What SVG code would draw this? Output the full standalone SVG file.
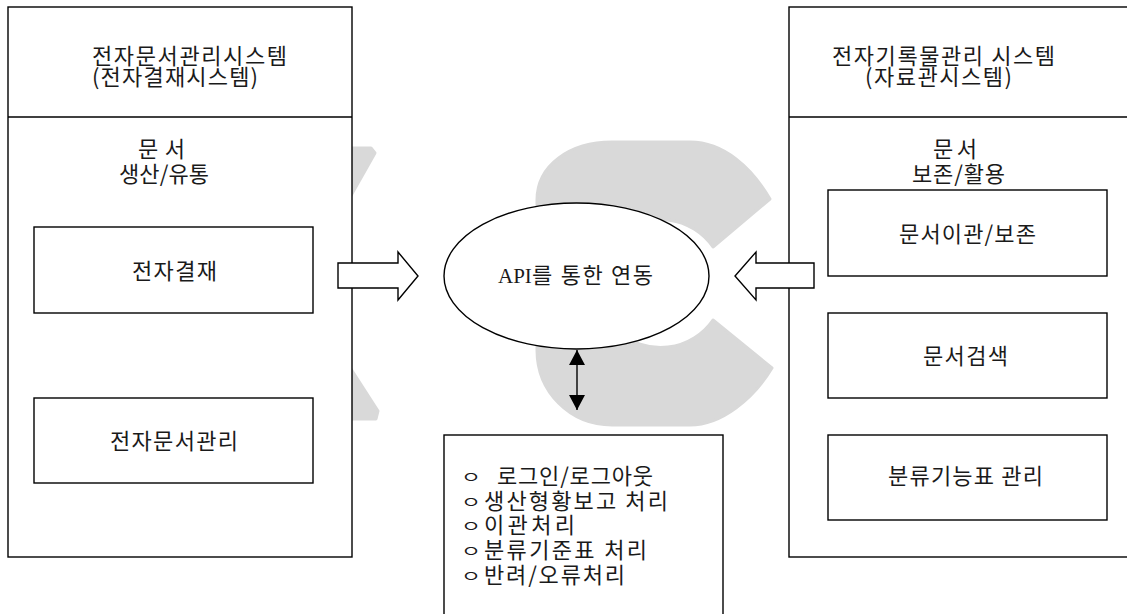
<svg xmlns="http://www.w3.org/2000/svg" width="1127" height="614" viewBox="0 0 1127 614">
<style>
.box{fill:#fff;stroke:#000;stroke-width:1.4}
.ln{fill:none;stroke:#000;stroke-width:1.4}
.wm{fill:#d9d9d9;stroke:#d9d9d9;stroke-width:3;stroke-linejoin:round}
.t{font-family:"Noto Sans CJK KR","Liberation Sans",sans-serif;font-size:22px;fill:#1a1a1a}
.ts{font-family:"Liberation Serif","Noto Sans CJK KR",serif;font-size:21px;fill:#1a1a1a}
.b{font-family:"Noto Sans CJK KR","Liberation Sans",sans-serif;font-size:15px;fill:#1a1a1a;text-anchor:middle}
.blk{fill:#fff;stroke:#000;stroke-width:1.4;stroke-linejoin:miter}
</style>
<defs>
<marker id="tri" viewBox="0 0 15 16" refX="15" refY="8" markerWidth="15" markerHeight="16" markerUnits="userSpaceOnUse" orient="auto-start-reverse">
<path d="M0,0 L15,8 L0,16 z" fill="#000"/>
</marker>
</defs>
<rect width="1127" height="614" fill="#fff"/>
<g id="watermark">
<path class="wm" d="M713,247 L770,199 C752,168 724,142 690,142 L612,142 C570,142 537,165 537,200 L537,350 C537,392 570,425 612,425 L690,425 C722,425 754,398 772,368 L713,320 A64,64 0 1 1 713,247 Z"/>
<polygon class="wm" points="340,148 371,148 375,153 340,215"/>
<polygon class="wm" points="340,352 378,411 376,419 340,419"/>
</g>
<g id="edms">
<rect class="box" x="8" y="7" width="344" height="550"/>
<line class="ln" x1="8" y1="117" x2="352" y2="117"/>
<text class="t" x="92" y="64" textLength="195" lengthAdjust="spacing">전자문서관리시스템</text>
<text class="t" x="92" y="85" textLength="166" lengthAdjust="spacing">(전자결재시스템)</text>
<text class="t" x="138" y="157" textLength="47" lengthAdjust="spacing">문서</text>
<text class="t" x="119" y="182" textLength="90" lengthAdjust="spacing">생산/유통</text>
</g>
<g id="approval">
<rect class="box" x="34" y="227" width="279" height="86"/>
<text class="t" x="132" y="279" textLength="85" lengthAdjust="spacing">전자결재</text>
</g>
<g id="docmgmt">
<rect class="box" x="34" y="398" width="279" height="85"/>
<text class="t" x="110" y="449" textLength="128" lengthAdjust="spacing">전자문서관리</text>
</g>
<g id="erms">
<rect class="box" x="789" y="7" width="360" height="550"/>
<line class="ln" x1="789" y1="117" x2="1149" y2="117"/>
<text class="t" x="832" y="64" textLength="223" lengthAdjust="spacing">전자기록물관리 시스템</text>
<text class="t" x="865" y="85" textLength="147" lengthAdjust="spacing">(자료관시스템)</text>
<text class="t" x="933" y="157" textLength="44" lengthAdjust="spacing">문서</text>
<text class="t" x="912" y="182" textLength="93" lengthAdjust="spacing">보존/활용</text>
</g>
<g id="transfer">
<rect class="box" x="828" y="190" width="279" height="86"/>
<text class="t" x="899" y="242" textLength="137" lengthAdjust="spacing">문서이관/보존</text>
</g>
<g id="search">
<rect class="box" x="828" y="313" width="279" height="85"/>
<text class="t" x="923" y="364" textLength="85" lengthAdjust="spacing">문서검색</text>
</g>
<g id="classify">
<rect class="box" x="828" y="435" width="279" height="85"/>
<text class="t" x="888" y="484" textLength="155" lengthAdjust="spacing">분류기능표 관리</text>
</g>
<g id="api">
<ellipse class="box" cx="576.5" cy="276" rx="132.5" ry="73"/>
<text class="ts" y="283"><tspan x="498">API</tspan><tspan x="532" font-size="22" textLength="121" lengthAdjust="spacing">를 통한 연동</tspan></text>
</g>
<g id="functions">
<rect class="box" x="444" y="435" width="279" height="200"/>
<text class="b" transform="translate(471,482) scale(1.45,0.9)">ㅇ</text>
<text class="b" transform="translate(471,507) scale(1.45,0.9)">ㅇ</text>
<text class="b" transform="translate(471,531) scale(1.45,0.9)">ㅇ</text>
<text class="b" transform="translate(471,556) scale(1.45,0.9)">ㅇ</text>
<text class="b" transform="translate(471,581) scale(1.45,0.9)">ㅇ</text>
<text class="t" x="497" y="484" textLength="156" lengthAdjust="spacing">로그인/로그아웃</text>
<text class="t" x="484" y="509" textLength="184" lengthAdjust="spacing">생산형황보고 처리</text>
<text class="t" x="484" y="533" textLength="91" lengthAdjust="spacing">이관처리</text>
<text class="t" x="484" y="558" textLength="163" lengthAdjust="spacing">분류기준표 처리</text>
<text class="t" x="484" y="583" textLength="141" lengthAdjust="spacing">반려/오류처리</text>
</g>
<g id="connectors">
<polygon class="blk" points="338,263 398,263 398,252 418,276 398,300 398,288 338,288"/>
<polygon class="blk" points="814,263 756,263 756,252 735,276 756,300 756,288 814,288"/>
<line class="ln" x1="577" y1="350" x2="577" y2="410" marker-start="url(#tri)" marker-end="url(#tri)"/>
</g>
</svg>
